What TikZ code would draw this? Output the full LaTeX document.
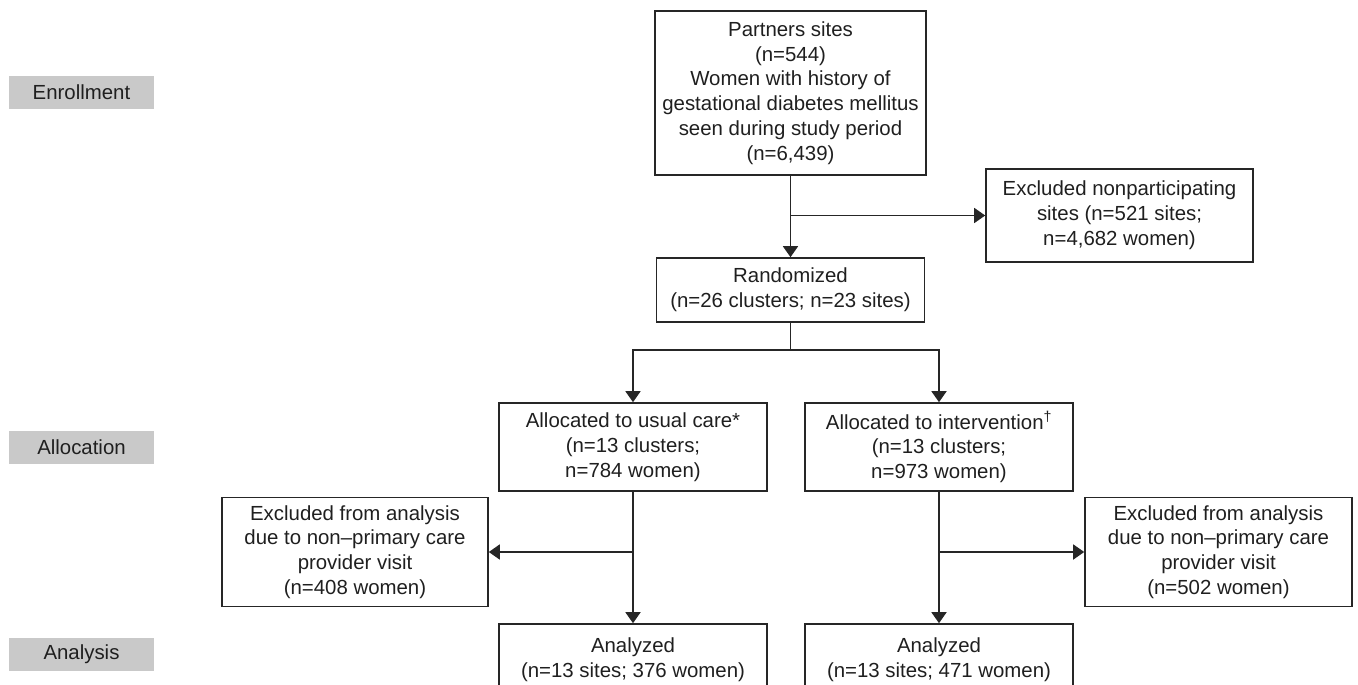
\documentclass[tikz,border=0pt]{standalone}
\usepackage{fontspec}
\setmainfont{Liberation Sans}
\usetikzlibrary{arrows.meta}
\begin{document}
\begin{tikzpicture}[x=1pt,y=-1pt,
        box/.style={draw=black!85,line width=1.6pt,align=center,inner sep=0pt,text=black!88,font=\fontsize{20.4}{24.8}\selectfont},
        stage/.style={fill=black!21,minimum width=145pt,minimum height=33pt,inner sep=0pt,text=black!88,font=\fontsize{20.4}{24.8}\selectfont},
        arr/.style={-{Triangle[width=15pt,length=11pt]},line width=1.6pt,draw=black!85}]
        \useasboundingbox (0,0) rectangle (1358,685);
        \clip (0,0) rectangle (1358,685);
        % stages
        \node[stage] (enrol) at (81.5,92.5) {Enrollment};
        \node[stage] (alloc) at (81.5,447) {Allocation};
        \node[stage] (anal) at (81.5,654.5) {Analysis};
        % boxes
        \node[box,minimum width=271pt,minimum height=164pt] (sites) at (790.5,93) {Partners sites\\(n=544)\\Women with history of\\gestational diabetes mellitus\\seen during study period\\(n=6,439)};
        \node[box,minimum width=267pt,minimum height=93pt] (nonpart) at (1119.5,215.5) {Excluded nonparticipating\\sites (n=521 sites;\\n=4,682 women)};
        \node[box,minimum width=268pt,minimum height=64pt] (rand) at (790.5,290) {Randomized\\(n=26 clusters; n=23 sites)};
        \node[box,minimum width=268pt,minimum height=88pt] (usual) at (633,447) {Allocated to usual care*\\(n=13 clusters;\\n=784 women)};
        \node[box,minimum width=268pt,minimum height=88pt] (interv) at (939,447) {Allocated to intervention\textsuperscript{†}\\(n=13 clusters;\\n=973 women)};
        \node[box,minimum width=266pt,minimum height=109pt] (exclL) at (355,552) {Excluded from analysis\\due to non--primary care\\provider visit\\(n=408 women)};
        \node[box,minimum width=267pt,minimum height=109pt] (exclR) at (1218.5,552) {Excluded from analysis\\due to non--primary care\\provider visit\\(n=502 women)};
        \node[box,minimum width=268pt,minimum height=72pt] (anaL) at (633,660) {Analyzed\\(n=13 sites; 376 women)};
        \node[box,minimum width=268pt,minimum height=72pt] (anaR) at (939,660) {Analyzed\\(n=13 sites; 471 women)};
        % connectors
        \draw[arr] (sites.south) -- (rand.north);
        \draw[arr] (sites.south |- nonpart.west) -- (nonpart.west);
        \coordinate (split) at (790.5,350);
        \draw[line width=1.6pt,draw=black!85] (rand.south) -- (split);
        \draw[arr] (split) -| (usual.north);
        \draw[arr] (split) -| (interv.north);
        \draw[arr] (usual.south) -- (anaL.north);
        \draw[arr] (usual.south |- exclL.east) -- (exclL.east);
        \draw[arr] (interv.south) -- (anaR.north);
        \draw[arr] (interv.south |- exclR.west) -- (exclR.west);
\end{tikzpicture}
\end{document}
